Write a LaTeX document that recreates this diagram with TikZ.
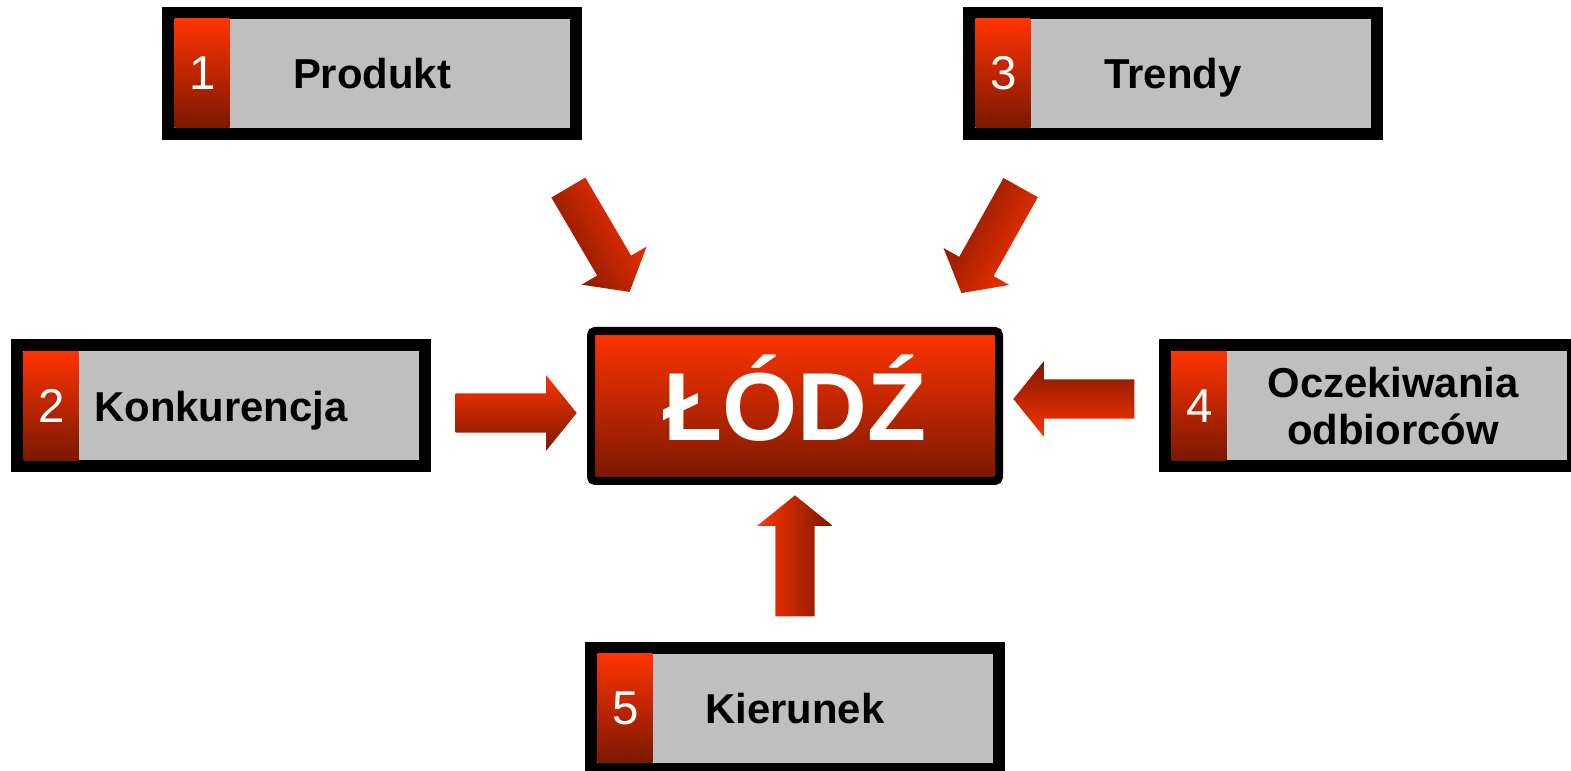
\documentclass[tikz,border=0pt]{standalone}
\usepackage{fontspec}
\setmainfont{Liberation Sans}
\usepackage{xcolor}
\usetikzlibrary{positioning,calc,shapes.arrows}
\definecolor{redtop}{RGB}{255,51,0}
\definecolor{reddark}{RGB}{122,24,0}
\definecolor{boxgrey}{RGB}{191,191,191}

\begin{document}
\begin{tikzpicture}[x=0.1mm,y=0.1mm,
  box/.style={draw=black,line width=1.2mm,fill=boxgrey,minimum width=40.8mm,minimum height=12.1mm,inner sep=0pt,align=center,text depth=0pt,font=\fontsize{11.9}{13.4}\selectfont\bfseries},
  numstrip/.style={anchor=west,minimum width=5.5mm,minimum height=10.9mm,inner sep=0pt,top color=redtop,bottom color=reddark,text=white,font=\fontsize{13.5}{15}\selectfont},
  city/.style={draw=black,line width=0.8mm,rounded corners=0.4mm,minimum width=40.8mm,minimum height=15mm,inner sep=0pt,top color=redtop,bottom color=reddark,text=white,text height=19.7pt,text depth=0pt,font=\fontsize{27.5}{30}\selectfont\bfseries},
  blk/.style={single arrow,anchor=tail,minimum height=12.1mm,minimum width=7.4mm,single arrow head extend=1.8mm,single arrow tip angle=102,inner xsep=0pt,inner ysep=1.9mm,text height=0pt,text depth=0pt}]
\useasboundingbox (0,0) rectangle (1571,771);
\node[city] (lodz) at (795,365) {ŁÓDŹ};
\node[box,above=18.7mm of lodz,xshift=-42.3mm] (prod) {Produkt};
\node[box,above=18.7mm of lodz,xshift=37.8mm] (trend) {Trendy};
\node[box,left=15.6mm of lodz] (konk) {Konkurencja};
\node[box,right=15.6mm of lodz] (ocz) {\hspace*{4.8mm}Oczekiwania\\\hspace*{4.8mm}odbiorców};
\node[box,below=15.7mm of lodz] (kier) {Kierunek};
\node[numstrip] (n1) at ($(prod.west)+(12,0)$) {1};
\node[numstrip] (n2) at ($(konk.west)+(12,0)$) {2};
\node[numstrip] (n3) at ($(trend.west)+(12,0)$) {3};
\node[numstrip] (n4) at ($(ocz.west)+(12,0)$) {4};
\node[numstrip] (n5) at ($(kier.west)+(12,0)$) {5};
\node[blk,rotate=-59.6,top color=redtop,bottom color=reddark,shading angle=-59.6] (a1) at (568,584) {};
\node[blk,rotate=-119.3,top color=redtop,bottom color=reddark,shading angle=-119.3] (a3) at (1021,584) {};
\node[blk,top color=redtop,bottom color=reddark,yshift=-0.7mm] (a2) at ($(konk.east)!0.154!(lodz.west)$) {};
\node[blk,rotate=180,top color=reddark,bottom color=redtop,yshift=-0.7mm] (a4) at ($(lodz.east)!0.846!(ocz.west)$) {};
\node[blk,rotate=90,left color=redtop,right color=reddark] (a5) at ($(lodz.south)!0.841!(kier.north)$) {};
\end{tikzpicture}
\end{document}
